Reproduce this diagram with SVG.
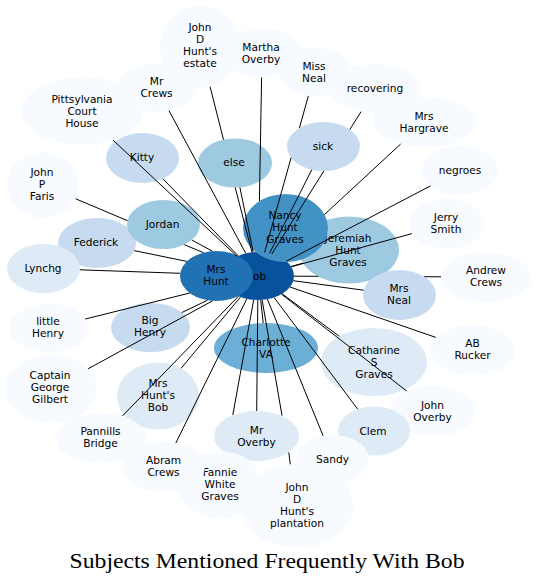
<svg xmlns="http://www.w3.org/2000/svg" width="536" height="584" viewBox="0 0 536 584">
<style>
text{font-family:"DejaVu Sans",sans-serif;font-size:10.6px;fill:#000;text-anchor:middle}
.title{font-family:"Liberation Serif",serif;font-size:22px;text-anchor:middle}
.c1{fill:#f7fbff}.c2{fill:#deebf7}.c3{fill:#c6dbef}.c4{fill:#9ecae1}.c5{fill:#6baed6}.c6{fill:#4292c6}.c7{fill:#2171b5}.c8{fill:#08519c}
#edges path{stroke:#000;stroke-width:1;fill:none}
</style>
<rect width="536" height="584" fill="#fff"/>
<g id="nodes">
<g id="n-pittsylvania"><ellipse class="c1" cx="82" cy="111" rx="60" ry="34"/><text><tspan x="82" y="102.8">Pittsylvania</tspan><tspan x="82" y="114.8">Court</tspan><tspan x="82" y="126.8">House</tspan></text></g>
<g id="n-mrcrews"><ellipse class="c1" cx="156.5" cy="87.5" rx="39.5" ry="24.5"/><text><tspan x="156.5" y="85.3">Mr</tspan><tspan x="156.5" y="97.3">Crews</tspan></text></g>
<g id="n-jdhestate"><ellipse class="c1" cx="200" cy="46.5" rx="40" ry="41.5"/><text><tspan x="200" y="31.3">John</tspan><tspan x="200" y="43.3">D</tspan><tspan x="200" y="55.3">Hunt's</tspan><tspan x="200" y="67.3">estate</tspan></text></g>
<g id="n-martha"><ellipse class="c1" cx="262" cy="53" rx="41" ry="24.5"/><text><tspan x="261" y="50.8">Martha</tspan><tspan x="261" y="62.8">Overby</tspan></text></g>
<g id="n-missneal"><ellipse class="c1" cx="315" cy="72" rx="36" ry="24.5"/><text><tspan x="314" y="69.8">Miss</tspan><tspan x="314" y="81.8">Neal</tspan></text></g>
<g id="n-recovering"><ellipse class="c1" cx="375.5" cy="88.5" rx="45.5" ry="24.5"/><text x="375" y="91.8">recovering</text></g>
<g id="n-hargrave"><ellipse class="c1" cx="424.5" cy="122" rx="51.5" ry="25"/><text><tspan x="424" y="119.8">Mrs</tspan><tspan x="424" y="131.8">Hargrave</tspan></text></g>
<g id="n-negroes"><ellipse class="c1" cx="460" cy="170.5" rx="38" ry="24.5"/><text x="460" y="174">negroes</text></g>
<g id="n-jerrysmith"><ellipse class="c1" cx="447" cy="224" rx="38" ry="25"/><text><tspan x="446" y="221">Jerry</tspan><tspan x="446" y="233">Smith</tspan></text></g>
<g id="n-andrewcrews"><ellipse class="c1" cx="486" cy="277" rx="45" ry="25"/><text><tspan x="486" y="274">Andrew</tspan><tspan x="486" y="286">Crews</tspan></text></g>
<g id="n-abrucker"><ellipse class="c1" cx="472.5" cy="350" rx="42.5" ry="25"/><text><tspan x="472.5" y="347">AB</tspan><tspan x="472.5" y="359">Rucker</tspan></text></g>
<g id="n-catharine"><ellipse class="c2" cx="374" cy="362" rx="53" ry="34"/><text><tspan x="374" y="353.5">Catharine</tspan><tspan x="374" y="365.5">S</tspan><tspan x="374" y="377.5">Graves</tspan></text></g>
<g id="n-johnoverby"><ellipse class="c1" cx="432.5" cy="411" rx="42.5" ry="25"/><text><tspan x="432.5" y="408.5">John</tspan><tspan x="432.5" y="420.5">Overby</tspan></text></g>
<g id="n-clem"><ellipse class="c2" cx="374" cy="431" rx="36" ry="24.5"/><text x="373" y="434.5">Clem</text></g>
<g id="n-sandy"><ellipse class="c1" cx="332.5" cy="459" rx="36.5" ry="24"/><text x="332.5" y="462.5">Sandy</text></g>
<g id="n-mroverby"><ellipse class="c2" cx="256.5" cy="436" rx="42.5" ry="25"/><text><tspan x="256.5" y="433.5">Mr</tspan><tspan x="256.5" y="445.5">Overby</tspan></text></g>
<g id="n-plantation"><ellipse class="c1" cx="297.5" cy="506" rx="56" ry="42"/><text><tspan x="297" y="490.8">John</tspan><tspan x="297" y="502.8">D</tspan><tspan x="297" y="514.8">Hunt's</tspan><tspan x="297" y="526.8">plantation</tspan></text></g>
<g id="n-fannie"><ellipse class="c1" cx="220" cy="485" rx="42" ry="34"/><text><tspan x="220" y="476">Fannie</tspan><tspan x="220" y="488">White</tspan><tspan x="220" y="500">Graves</tspan></text></g>
<g id="n-abram"><ellipse class="c1" cx="164" cy="467" rx="41" ry="25"/><text><tspan x="163.5" y="464.2">Abram</tspan><tspan x="163.5" y="476.2">Crews</tspan></text></g>
<g id="n-mhb"><ellipse class="c2" cx="158" cy="396" rx="41" ry="33.5"/><text><tspan x="158" y="387">Mrs</tspan><tspan x="158" y="399">Hunt's</tspan><tspan x="158" y="411">Bob</tspan></text></g>
<g id="n-pannills"><ellipse class="c1" cx="101" cy="438" rx="45" ry="25"/><text><tspan x="100.5" y="435.2">Pannills</tspan><tspan x="100.5" y="447.2">Bridge</tspan></text></g>
<g id="n-captain"><ellipse class="c1" cx="51" cy="389" rx="46" ry="34"/><text><tspan x="50" y="379">Captain</tspan><tspan x="50" y="391">George</tspan><tspan x="50" y="403">Gilbert</tspan></text></g>
<g id="n-littlehenry"><ellipse class="c1" cx="49" cy="328" rx="39" ry="24.5"/><text><tspan x="48" y="325.3">little</tspan><tspan x="48" y="337.3">Henry</tspan></text></g>
<g id="n-federick"><ellipse class="c3" cx="97" cy="243" rx="39" ry="25"/><text x="96" y="246">Federick</text></g>
<g id="n-lynchg"><ellipse class="c2" cx="43.5" cy="268.5" rx="36.5" ry="24.5"/><text x="43" y="271.8">Lynchg</text></g>
<g id="n-faris"><ellipse class="c1" cx="43" cy="185" rx="36" ry="33"/><text><tspan x="42" y="176">John</tspan><tspan x="42" y="188">P</tspan><tspan x="42" y="200">Faris</tspan></text></g>
<g id="n-jordan"><ellipse class="c4" cx="163.5" cy="224.5" rx="36.5" ry="24.5"/><text x="162.5" y="227.8">Jordan</text></g>
<g id="n-kitty"><ellipse class="c3" cx="142.5" cy="158" rx="36.5" ry="25"/><text x="142" y="161.3">Kitty</text></g>
<g id="n-else"><ellipse class="c4" cx="235" cy="163" rx="37" ry="24.5"/><text x="234" y="166.3">else</text></g>
<g id="n-sick"><ellipse class="c3" cx="323.5" cy="146.5" rx="36.5" ry="24.5"/><text x="323" y="149.8">sick</text></g>
<g id="n-bighenry"><ellipse class="c3" cx="150.5" cy="327.5" rx="39.5" ry="24.5"/><text><tspan x="150" y="324">Big</tspan><tspan x="150" y="336">Henry</tspan></text></g>
<g id="n-jeremiah"><ellipse class="c4" cx="349" cy="250" rx="50" ry="33.5"/><text><tspan x="348" y="241.5">Jeremiah</tspan><tspan x="348" y="253.5">Hunt</tspan><tspan x="348" y="265.5">Graves</tspan></text></g>
<g id="n-mrsneal"><ellipse class="c3" cx="399.5" cy="295" rx="36.5" ry="25"/><text><tspan x="399" y="292">Mrs</tspan><tspan x="399" y="304">Neal</tspan></text></g>
<g id="n-charlotte"><ellipse class="c5" cx="266" cy="348" rx="52" ry="25"/><text><tspan x="266" y="345.5">Charlotte</tspan><tspan x="266" y="357.5">VA</tspan></text></g>
<g id="n-bob"><ellipse class="c8" cx="258" cy="276" rx="36" ry="24"/><text x="256" y="279.5">Bob</text></g>
<g id="n-mrshunt"><ellipse class="c7" cx="216.5" cy="276" rx="36.5" ry="25"/><text><tspan x="216" y="273">Mrs</tspan><tspan x="216" y="285">Hunt</tspan></text></g>
<g id="n-nancy"><ellipse class="c6" cx="285.5" cy="228" rx="42.5" ry="34"/><text><tspan x="285" y="219">Nancy</tspan><tspan x="285" y="231">Hunt</tspan><tspan x="285" y="243">Graves</tspan></text></g>
</g>
<g id="edges">
<path d="M291.1,266.5L303,263.1"/>
<path d="M260.7,299.9L263.2,323"/>
<path d="M239.9,187.3L253.2,252.2"/>
<path d="M191.8,240L212.4,251.2"/>
<path d="M162.8,178.8L238.3,255.9"/>
<path d="M113,140.1L237.1,256.4"/>
<path d="M169,110.7L245.8,253.4"/>
<path d="M210.1,86.7L223.5,139.7M235.2,187.5L252,252.3"/>
<path d="M261.6,77.5L259.4,201"/>
<path d="M308.3,96.1L299.4,128.1M291.1,157.7L264.6,252.4"/>
<path d="M311.8,169.7L269.5,253.3"/>
<path d="M361,111.7L349.8,129.6M323.8,171L271.9,253.9"/>
<path d="M400.6,144.1L324.5,214.5"/>
<path d="M430.5,185.9L286.3,261.2"/>
<path d="M411.9,233.6L291.3,266.8"/>
<path d="M294,276.2L318.4,276.3M424.4,276.7L441,276.8"/>
<path d="M293.3,280.7L363.7,290.2"/>
<path d="M290,287L435.8,337.4"/>
<path d="M282.1,293.8L339.3,336.3"/>
<path d="M281.5,294.2L406.8,391.1"/>
<path d="M274.1,297.5L357.7,409.2"/>
<path d="M267.4,299.2L323.1,435.8"/>
<path d="M262.1,299.8L282,415.6M288.8,452.5L290.3,464.3"/>
<path d="M257.8,300L256.7,411"/>
<path d="M253.7,299.8L232.8,415"/>
<path d="M246.8,298.8L175.8,443.1"/>
<path d="M238.5,296.2L122.4,416"/>
<path d="M240.5,297L181.1,368.3"/>
<path d="M88.1,368.8L212.6,300.8"/>
<path d="M181.7,312.6L207.4,300.3"/>
<path d="M85.3,319L189.8,293"/>
<path d="M79.9,269.8L180.3,273.3"/>
<path d="M134.1,250.6L186.8,261.4"/>
<path d="M75.7,198.8L127.5,220.7M184.3,244.7L203.6,252.7"/>
</g>
<text class="title" x="267" y="568" textLength="395" lengthAdjust="spacingAndGlyphs">Subjects Mentioned Frequently With Bob</text>
</svg>
